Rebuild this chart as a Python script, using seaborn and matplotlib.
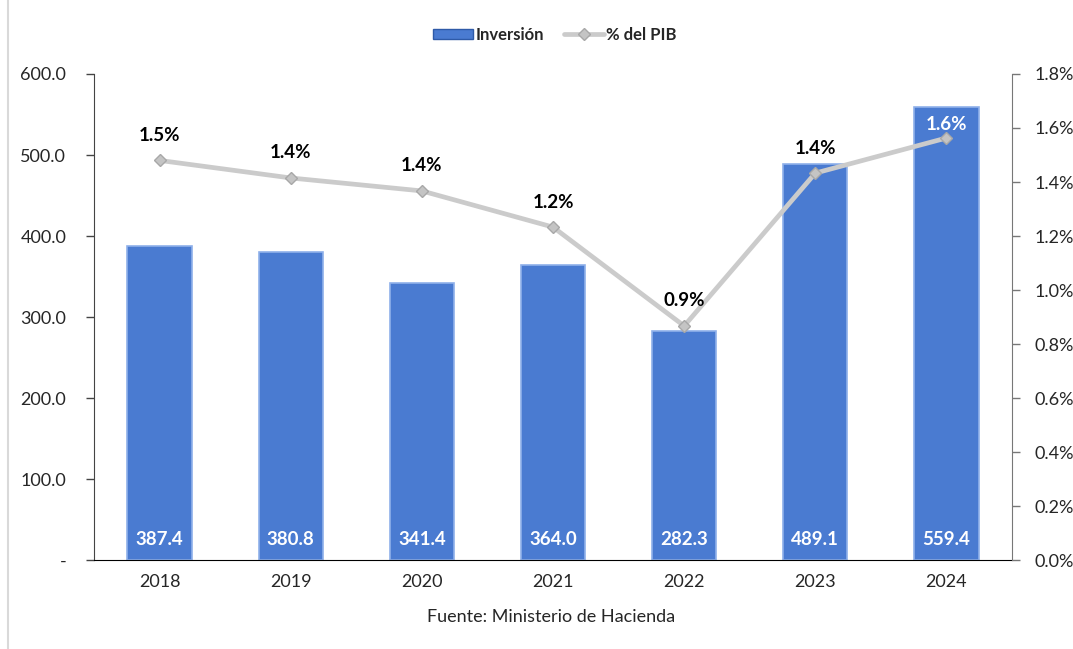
import numpy as np
import matplotlib.pyplot as plt
import seaborn as sns
from matplotlib.lines import Line2D
from matplotlib.patches import Patch
from matplotlib.ticker import FuncFormatter, MultipleLocator

years = ["2018", "2019", "2020", "2021", "2022", "2023", "2024"]
inversion = [387.4, 380.8, 341.4, 364.0, 282.3, 489.1, 559.4]
pct_pib = [1.48, 1.415, 1.367, 1.233, 0.867, 1.433, 1.563]
pct_labels = ["1.5%", "1.4%", "1.4%", "1.2%", "0.9%", "1.4%", "1.6%"]

sns.set_style("white")
plt.rcParams['font.family'] = ['Lato', 'DejaVu Sans']

bar_color = "#4A7BD1"
line_color = "#CBCBCB"

fig, ax = plt.subplots(figsize=(10.73, 6.49), dpi=100)
fig.subplots_adjust(left=0.0876, right=0.9432, top=0.886, bottom=0.137)

sns.barplot(x=years, y=inversion, color=bar_color, width=0.49,
            edgecolor="#8FB0EA", linewidth=1.2, saturation=1, ax=ax)
ax.set_ylim(0, 600)
ax.set_xlim(-0.5, 6.5)
ax.yaxis.set_major_locator(MultipleLocator(100))
ax.yaxis.set_major_formatter(FuncFormatter(lambda v, p: "-" if v == 0 else f"{v:.1f}"))
ax.set_xticks(np.arange(-0.5, 7, 1), minor=True)
ax.tick_params(axis="x", which="major", length=0, labelsize=13, pad=10)
ax.tick_params(axis="x", which="minor", length=6, width=1, direction="out", color="black")
ax.tick_params(axis="y", length=6, width=1, direction="out", labelsize=13, left=True, color="#444444", pad=14)
for sp in ["top", "right"]:
    ax.spines[sp].set_visible(False)
ax.spines["left"].set_color("#444444")
ax.spines["bottom"].set_color("black")

for i, v in enumerate(inversion):
    ax.text(i, 25, f"{v:.1f}", ha="center", va="center", color="white",
            fontsize=13.5, fontweight="bold")

ax2 = ax.twinx()
sns.pointplot(x=years, y=pct_pib, color=line_color, markers="D", linestyles="-",
              linewidth=3.4, markersize=6.5, markeredgecolor="#A8A8A8", markeredgewidth=1,
              markerfacecolor="#C4C4C4", ax=ax2)
ax2.set_ylim(0, 1.8)
ax2.set_xlim(-0.5, 6.5)
ax2.yaxis.set_major_locator(MultipleLocator(0.2))
ax2.yaxis.set_major_formatter(FuncFormatter(lambda v, p: f"{v:.1f}%"))
ax2.tick_params(axis="y", length=6, width=1, direction="out", labelsize=13, right=True, color="#777777", pad=10)
for sp in ["top", "left", "bottom"]:
    ax2.spines[sp].set_visible(False)
ax2.spines["right"].set_color("#777777")
ax2.set_ylabel("")
ax.set_ylabel("")

for i, (v, lab) in enumerate(zip(pct_pib, pct_labels)):
    col = "white" if i == 6 else "black"
    off = 10 if i == 6 else 18
    ax2.annotate(lab, (i, v), xytext=(0, off), textcoords="offset points",
                 ha="center", va="center", color=col, fontsize=13.5, fontweight="bold")

handles = [Patch(facecolor=bar_color, edgecolor="#2E5AA8"),
           Line2D([0], [0], color=line_color, lw=3.4, marker="D", markersize=6.5,
                  markeredgecolor="#A8A8A8", markerfacecolor="#C4C4C4")]
fig.legend(handles, ["Inversión", "% del PIB"], loc="center", bbox_to_anchor=(0.517, 0.946),
           ncol=2, frameon=False, prop={"weight": "bold", "size": 12},
           handlelength=2.4, handleheight=0.6, handletextpad=0.15, columnspacing=1.2)

fig.text(0.514, 0.05, "Fuente: Ministerio de Hacienda", ha="center", va="center", fontsize=13)
fig.add_artist(Line2D([0.0075, 0.0075], [0.0, 1.0], color="#D9D9D9", lw=1.5, transform=fig.transFigure))

fig.savefig("out.png", dpi=100)
